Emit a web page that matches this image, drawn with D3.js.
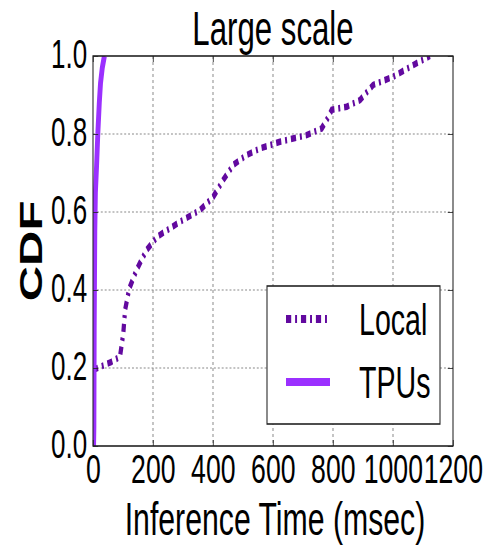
<!DOCTYPE html>
<html>
<head>
<meta charset="utf-8">
<script src="https://cdn.jsdelivr.net/npm/d3@7"></script>
<style>
	body { margin: 0; background: #fff; }
	text { font-family: "Liberation Sans", Arial, sans-serif; fill: #000; }
</style>
</head>
<body>
<svg id="chart" width="491" height="547"></svg>
<script>
// CDF samples (msec, cumulative fraction)
const localTime = [0, 30, 60, 90, 101, 107, 121, 146, 179, 215, 290, 357, 401, 434, 468, 512, 557, 623, 712, 762, 779, 796, 846, 890, 934, 1001, 1068, 1123];
const localCdf = [0.195, 0.205, 0.215, 0.229, 0.289, 0.349, 0.404, 0.453, 0.503, 0.537, 0.575, 0.605, 0.639, 0.682, 0.721, 0.746, 0.763, 0.78, 0.797, 0.814, 0.836, 0.862, 0.87, 0.887, 0.926, 0.947, 0.977, 1.0];
const tpuTime = [2, 3, 4, 6, 8, 12, 16, 21, 25, 31, 38];
const tpuCdf = [0, 0.05, 0.3, 0.55, 0.65, 0.72, 0.8, 0.88, 0.93, 0.97, 1.0];

const xTicks = [0, 200, 400, 600, 800, 1000, 1200];
const yTicks = [0, 0.2, 0.4, 0.6, 0.8, 1.0];

const seriesNames = ["Local", "TPUs"];
const seriesColors = ["#62099f", "#9b30ff"];

// the figure is squeezed horizontally, so draw wide and compress x
const sx = 0.65;
const margin = {top: 56, right: 491 - 453, bottom: 547 - 446, left: 93};
const width = (491 - margin.left - margin.right) / sx;
const height = 547 - margin.top - margin.bottom;

const svg = d3.select("#chart");
const root = svg.append("g").attr("transform", `scale(${sx},1)`);
const g = root.append("g").attr("transform", `translate(${margin.left / sx},${margin.top})`);

const x = d3.scaleLinear().domain([0, 1200]).range([0, width]);
const y = d3.scaleLinear().domain([0, 1]).range([height, 0]);

// grid
g.append("g")
.selectAll("line")
.data(xTicks.slice(1, -1))
.join("line")
.attr("x1", (d) => x(d))
.attr("x2", (d) => x(d))
.attr("y1", 0)
.attr("y2", height)
.attr("stroke", "#888")
.attr("stroke-width", 1.5)
.attr("stroke-dasharray", "3,3");

g.append("g")
.selectAll("line")
.data(yTicks.slice(1, -1))
.join("line")
.attr("x1", 0)
.attr("x2", width)
.attr("y1", (d) => y(d))
.attr("y2", (d) => y(d))
.attr("stroke", "#888")
.attr("stroke-width", 1.2)
.attr("stroke-dasharray", "3,3");

// curves
g.append("clipPath").attr("id", "clip")
.append("rect").attr("width", width).attr("height", height);

const line = d3.line().x((d) => x(d[0])).y((d) => y(d[1]));
const localData = localTime.map((t, i) => [t, localCdf[i]]);
const tpuData = tpuTime.map((t, i) => [t, tpuCdf[i]]);

const curves = g.append("g").attr("clip-path", "url(#clip)");

curves.append("path")
.datum(localData)
.attr("d", line)
.attr("fill", "none")
.attr("stroke", seriesColors[0])
.attr("stroke-width", 6.5)
.attr("stroke-dasharray", "8,6,3,6");

curves.append("path")
.datum(tpuData)
.attr("d", line)
.attr("fill", "none")
.attr("stroke", seriesColors[1])
.attr("stroke-width", 7.5)
.attr("stroke-linejoin", "round");

// frame
g.append("rect")
.attr("width", width)
.attr("height", height)
.attr("fill", "none")
.attr("stroke", "#222")
.attr("stroke-width", 1.6);

// axes with inward ticks
const fmtY = d3.format(".1f");
const fmtX = d3.format("d");

const xAxis = g.append("g")
.attr("transform", `translate(0,${height})`)
.call(d3.axisBottom(x).tickValues(xTicks).tickFormat(fmtX).tickSizeInner(-6).tickSizeOuter(0).tickPadding(8));

const yAxis = g.append("g")
.call(d3.axisLeft(y).tickValues(yTicks).tickFormat(fmtY).tickSizeInner(-8).tickSizeOuter(0).tickPadding(9));

g.append("g")
.call(d3.axisTop(x).tickValues(xTicks).tickSizeInner(-6).tickSizeOuter(0).tickFormat(""));

g.append("g")
.attr("transform", `translate(${width},0)`)
.call(d3.axisRight(y).tickValues(yTicks).tickSizeInner(-8).tickSizeOuter(0).tickFormat(""));

g.selectAll(".domain").remove();
g.selectAll(".tick line").attr("stroke", "#222");
g.selectAll(".tick text").attr("font-family", "Liberation Sans, Arial, sans-serif").attr("fill", "#000");
xAxis.selectAll(".tick text").attr("font-size", 41);
yAxis.selectAll(".tick text").attr("font-size", 40).attr("dy", "0.28em");

// titles
g.append("text")
.attr("x", width / 2)
.attr("y", 45 - margin.top)
.attr("text-anchor", "middle")
.attr("font-size", 48)
.text("Large scale");

g.append("text")
.attr("x", width / 2 + 2 / sx)
.attr("y", 535 - margin.top)
.attr("text-anchor", "middle")
.attr("font-size", 46.5)
.text("Inference Time (msec)");

g.append("text")
.attr("transform", `translate(${(25 + 17) / sx - margin.left / sx},${height / 2}) rotate(-90)`)
.attr("text-anchor", "middle")
.attr("font-size", 49)
.attr("font-weight", "bold")
.text("CDF");

// legend
const legend = g.append("g")
.attr("transform", `translate(${(267 - margin.left) / sx},${286 - margin.top})`);

legend.append("rect")
.attr("width", (440 - 267) / sx)
.attr("height", 138)
.attr("fill", "#fff")
.attr("stroke", "#222")
.attr("stroke-width", 1.6);

const rows = legend.selectAll(".row")
.data(seriesNames)
.join("g")
.attr("class", "row")
.attr("transform", (d, i) => `translate(0,${33 + i * 63})`);

rows.append("line")
.attr("x1", 19 / sx)
.attr("x2", (d, i) => (i === 0 ? 61 : 63) / sx)
.attr("stroke", (d, i) => seriesColors[i])
.attr("stroke-width", 8)
.attr("stroke-dasharray", (d, i) => (i === 0 ? "8,6,3,6" : null));

rows.append("text")
.attr("x", 92 / sx)
.attr("y", 16)
.attr("font-size", 44)
.text((d) => d);
</script>
</body>
</html>
